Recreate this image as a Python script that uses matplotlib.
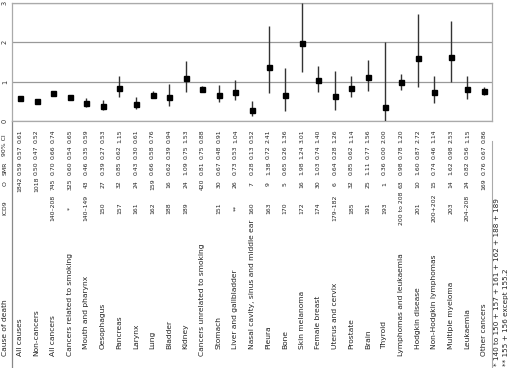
import matplotlib
matplotlib.use("Agg")
import matplotlib.pyplot as plt
from matplotlib.transforms import blended_transform_factory

plt.rcParams['font.family'] = ['DejaVu Sans']

causes = ["All causes", "Non-cancers", "All cancers", "Cancers related to smoking",
          "Mouth and pharynx", "Oesophagus", "Pancreas", "Larynx", "Lung", "Bladder", "Kidney",
          "Cancers unrelated to smoking", "Stomach", "Liver and gallbladder",
          "Nasal cavity, sinus and middle ear", "Pleura", "Bone", "Skin melanoma",
          "Female breast", "Uterus and cervix", "Prostate", "Brain", "Thyroid",
          "Lymphomas and leukaemia", "Hodgkin disease", "Non-Hodgkin lymphomas",
          "Multiple myeloma", "Leukaemia", "Other cancers"]
indented = [False, False, False, False,
            True, True, True, True, True, True, True,
            False, True, True, True, True, True, True, True, True, True, True, True,
            False, True, True, True, True, False]
icd9 = ["", "", "140\u2013208", "*", "140\u2013149", "150", "157", "161", "162", "188", "189",
        "", "151", "**", "160", "163", "170", "172", "174", "179\u2013182", "185", "191", "193",
        "200 to 208", "201", "200+202", "203", "204\u2013208", ""]
observed = [1842, 1018, 745, 325, 43, 27, 32, 24, 159, 16, 24, 420, 30, 26, 7, 9, 5, 16, 30,
            6, 32, 25, 1, 63, 10, 15, 14, 24, 169]
smr = [0.59, 0.50, 0.70, 0.60, 0.46, 0.39, 0.85, 0.43, 0.66, 0.62, 1.09, 0.81, 0.67, 0.73,
       0.28, 1.38, 0.65, 1.98, 1.03, 0.64, 0.85, 1.11, 0.36, 0.98, 1.60, 0.74, 1.62, 0.82, 0.76]
ci_low = [0.57, 0.47, 0.66, 0.54, 0.35, 0.27, 0.62, 0.30, 0.58, 0.39, 0.75, 0.75, 0.48, 0.53,
          0.13, 0.72, 0.26, 1.24, 0.74, 0.28, 0.62, 0.77, 0.00, 0.78, 0.87, 0.46, 0.98, 0.56, 0.67]
ci_high = [0.61, 0.52, 0.74, 0.65, 0.59, 0.53, 1.15, 0.61, 0.76, 0.94, 1.53, 0.88, 0.91, 1.04,
           0.52, 2.41, 1.36, 3.01, 1.40, 1.26, 1.14, 1.56, 2.00, 1.20, 2.72, 1.14, 2.53, 1.15, 0.86]
headers = ["Cause of death", "ICD9", "O", "SMR", "90% CI"]
footnotes = ["* 140 to 150 + 157 + 161 + 162 + 188 + 189", "** 155 + 156 except 155.2"]

W, H = 514, 368
fig = plt.figure(figsize=(W / 100, H / 100), dpi=100)
ax = fig.add_axes([12 / W, 1 - 121 / H, 480 / W, 118 / H])

x = list(range(len(causes)))
err = [[s - lo for s, lo in zip(smr, ci_low)], [hi - s for s, hi in zip(smr, ci_high)]]
ax.errorbar(x, smr, yerr=err, fmt="s", color="black", ecolor="#333333",
            elinewidth=1, markersize=3.6, capsize=0, zorder=3)

ax.set_xlim(-8 / 16.57, 472 / 16.57)
ax.set_ylim(0, 3)
ax.set_yticks([0, 1, 2, 3])
ax.set_yticklabels(["0", "1", "2", "3"], rotation=90, va="center", fontsize=4.8, color="#333333")
ax.tick_params(axis="y", length=0, pad=3)
ax.set_xticks([])
ax.grid(axis="y", color="#999999", linewidth=0.9)
for s in ax.spines.values():
    s.set_color("#aaaaaa")
    s.set_linewidth(0.9)

tr = blended_transform_factory(ax.transData, fig.transFigure)


def fy(px):
    return 1 - px / H


txt = dict(rotation=90, fontsize=5.4, color="#222222", transform=tr, ha="center")
num = dict(txt, fontsize=4.4)

# header column
hx = -15 / 16.57
ax.text(hx, fy(356), headers[0], va="bottom", **txt)
ax.text(hx, fy(208), headers[1], va="center", **num)
ax.text(hx, fy(184), headers[2], va="center", **num)
ax.text(hx, fy(168), headers[3], va="center", **num)
ax.text(hx, fy(145), headers[4], va="center", **num)

for i in x:
    ax.text(i, fy(349 if indented[i] else 356), causes[i], va="bottom", **txt)
    ax.text(i, fy(208), icd9[i], va="center", **num)
    ax.text(i, fy(184), str(observed[i]), va="center", **num)
    ax.text(i, fy(168), f"{smr[i]:.2f}", va="center", **num)
    ax.text(i, fy(152), f"{ci_low[i]:.2f}", va="center", **num)
    ax.text(i, fy(136), f"{ci_high[i]:.2f}", va="center", **num)

fn = dict(txt, fontsize=5.2)
ax.text(477 / 16.57, fy(366), footnotes[0], va="bottom", **fn)
ax.text(486 / 16.57, fy(366), footnotes[1], va="bottom", **fn)

# table rules
ax.plot([-8 / 16.57, -8 / 16.57], [fy(121), fy(368)], color="#888888", lw=0.9,
        transform=tr, clip_on=False)
ax.plot([472 / 16.57, 472 / 16.57], [fy(141), fy(368)], color="#aaaaaa", lw=0.8,
        transform=tr, clip_on=False)

fig.savefig("out.png", dpi=100)
